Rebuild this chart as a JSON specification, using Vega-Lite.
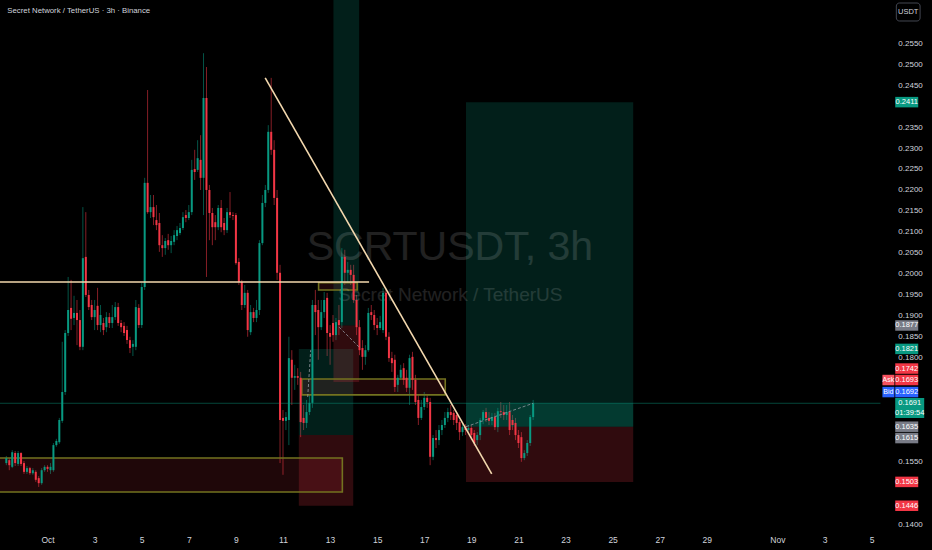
{
"$schema":"https://vega.github.io/schema/vega-lite/v6.json",
"width":932,"height":550,"autosize":{"type":"none"},"padding":0,
"background":"#000000",
"config":{"view":{"stroke":null},"font":"Liberation Sans Narrow, Liberation Sans, sans-serif"},
"datasets":{
"candles":[
{"t":"2024-09-29T06:00:00Z","o":0.1548,"h":0.1565,"l":0.1543,"c":0.1560},
{"t":"2024-09-29T09:00:00Z","o":0.1555,"h":0.1560,"l":0.1531,"c":0.1543},
{"t":"2024-09-29T12:00:00Z","o":0.1539,"h":0.1579,"l":0.1536,"c":0.1574},
{"t":"2024-09-29T15:00:00Z","o":0.1572,"h":0.1577,"l":0.1541,"c":0.1548},
{"t":"2024-09-29T18:00:00Z","o":0.1546,"h":0.1577,"l":0.1541,"c":0.1572},
{"t":"2024-09-29T21:00:00Z","o":0.1572,"h":0.1574,"l":0.1541,"c":0.1546},
{"t":"2024-09-30T00:00:00Z","o":0.1548,"h":0.1553,"l":0.1522,"c":0.1527},
{"t":"2024-09-30T03:00:00Z","o":0.1527,"h":0.1541,"l":0.1522,"c":0.1536},
{"t":"2024-09-30T06:00:00Z","o":0.1536,"h":0.1539,"l":0.1520,"c":0.1524},
{"t":"2024-09-30T09:00:00Z","o":0.1524,"h":0.1536,"l":0.1520,"c":0.1531},
{"t":"2024-09-30T12:00:00Z","o":0.1527,"h":0.1531,"l":0.1503,"c":0.1508},
{"t":"2024-09-30T15:00:00Z","o":0.1512,"h":0.1517,"l":0.1491,"c":0.1500},
{"t":"2024-09-30T18:00:00Z","o":0.1500,"h":0.1536,"l":0.1496,"c":0.1531},
{"t":"2024-09-30T21:00:00Z","o":0.1531,"h":0.1543,"l":0.1527,"c":0.1539},
{"t":"2024-10-01T00:00:00Z","o":0.1539,"h":0.1543,"l":0.1527,"c":0.1534},
{"t":"2024-10-01T03:00:00Z","o":0.1531,"h":0.1548,"l":0.1522,"c":0.1539},
{"t":"2024-10-01T06:00:00Z","o":0.1531,"h":0.1596,"l":0.1527,"c":0.1591},
{"t":"2024-10-01T09:00:00Z","o":0.1591,"h":0.1606,"l":0.1587,"c":0.1601},
{"t":"2024-10-01T12:00:00Z","o":0.1598,"h":0.1656,"l":0.1594,"c":0.1651},
{"t":"2024-10-01T15:00:00Z","o":0.1649,"h":0.1838,"l":0.1644,"c":0.1718},
{"t":"2024-10-01T18:00:00Z","o":0.1718,"h":0.1866,"l":0.1711,"c":0.1859},
{"t":"2024-10-01T21:00:00Z","o":0.1859,"h":0.1993,"l":0.1852,"c":0.1914},
{"t":"2024-10-02T00:00:00Z","o":0.1919,"h":0.1986,"l":0.1866,"c":0.1893},
{"t":"2024-10-02T03:00:00Z","o":0.1895,"h":0.1948,"l":0.1878,"c":0.1907},
{"t":"2024-10-02T06:00:00Z","o":0.1907,"h":0.1938,"l":0.1830,"c":0.1890},
{"t":"2024-10-02T09:00:00Z","o":0.1890,"h":0.1914,"l":0.1818,"c":0.1826},
{"t":"2024-10-02T12:00:00Z","o":0.1826,"h":0.2160,"l":0.1818,"c":0.2038},
{"t":"2024-10-02T15:00:00Z","o":0.2041,"h":0.2148,"l":0.1945,"c":0.1950},
{"t":"2024-10-02T18:00:00Z","o":0.1950,"h":0.1962,"l":0.1914,"c":0.1921},
{"t":"2024-10-02T21:00:00Z","o":0.1926,"h":0.1938,"l":0.1890,"c":0.1897},
{"t":"2024-10-03T00:00:00Z","o":0.1897,"h":0.1938,"l":0.1866,"c":0.1914},
{"t":"2024-10-03T03:00:00Z","o":0.1924,"h":0.1967,"l":0.1866,"c":0.1878},
{"t":"2024-10-03T06:00:00Z","o":0.1878,"h":0.1926,"l":0.1861,"c":0.1902},
{"t":"2024-10-03T09:00:00Z","o":0.1883,"h":0.1895,"l":0.1854,"c":0.1866},
{"t":"2024-10-03T12:00:00Z","o":0.1873,"h":0.1909,"l":0.1861,"c":0.1897},
{"t":"2024-10-03T15:00:00Z","o":0.1897,"h":0.1907,"l":0.1871,"c":0.1883},
{"t":"2024-10-03T18:00:00Z","o":0.1883,"h":0.1926,"l":0.1871,"c":0.1897},
{"t":"2024-10-03T21:00:00Z","o":0.1897,"h":0.1933,"l":0.1890,"c":0.1921},
{"t":"2024-10-04T00:00:00Z","o":0.1921,"h":0.1931,"l":0.1876,"c":0.1883},
{"t":"2024-10-04T03:00:00Z","o":0.1883,"h":0.1890,"l":0.1861,"c":0.1873},
{"t":"2024-10-04T06:00:00Z","o":0.1876,"h":0.1885,"l":0.1852,"c":0.1859},
{"t":"2024-10-04T09:00:00Z","o":0.1866,"h":0.1876,"l":0.1833,"c":0.1842},
{"t":"2024-10-04T12:00:00Z","o":0.1842,"h":0.1850,"l":0.1811,"c":0.1823},
{"t":"2024-10-04T15:00:00Z","o":0.1826,"h":0.1842,"l":0.1804,"c":0.1833},
{"t":"2024-10-04T18:00:00Z","o":0.1826,"h":0.1938,"l":0.1818,"c":0.1921},
{"t":"2024-10-04T21:00:00Z","o":0.1919,"h":0.1928,"l":0.1871,"c":0.1878},
{"t":"2024-10-05T00:00:00Z","o":0.1878,"h":0.1979,"l":0.1871,"c":0.1969},
{"t":"2024-10-05T03:00:00Z","o":0.1969,"h":0.2230,"l":0.1962,"c":0.2218},
{"t":"2024-10-05T06:00:00Z","o":0.2218,"h":0.2440,"l":0.2144,"c":0.2148},
{"t":"2024-10-05T09:00:00Z","o":0.2148,"h":0.2189,"l":0.2134,"c":0.2160},
{"t":"2024-10-05T12:00:00Z","o":0.2160,"h":0.2189,"l":0.2117,"c":0.2136},
{"t":"2024-10-05T15:00:00Z","o":0.2129,"h":0.2165,"l":0.2105,"c":0.2117},
{"t":"2024-10-05T18:00:00Z","o":0.2122,"h":0.2146,"l":0.2053,"c":0.2069},
{"t":"2024-10-05T21:00:00Z","o":0.2069,"h":0.2093,"l":0.2041,"c":0.2062},
{"t":"2024-10-06T00:00:00Z","o":0.2062,"h":0.2086,"l":0.2046,"c":0.2079},
{"t":"2024-10-06T03:00:00Z","o":0.2081,"h":0.2096,"l":0.2058,"c":0.2069},
{"t":"2024-10-06T06:00:00Z","o":0.2069,"h":0.2091,"l":0.2050,"c":0.2079},
{"t":"2024-10-06T09:00:00Z","o":0.2077,"h":0.2105,"l":0.2069,"c":0.2093},
{"t":"2024-10-06T12:00:00Z","o":0.2091,"h":0.2115,"l":0.2081,"c":0.2105},
{"t":"2024-10-06T15:00:00Z","o":0.2098,"h":0.2122,"l":0.2093,"c":0.2110},
{"t":"2024-10-06T18:00:00Z","o":0.2110,"h":0.2148,"l":0.2105,"c":0.2136},
{"t":"2024-10-06T21:00:00Z","o":0.2141,"h":0.2153,"l":0.2124,"c":0.2134},
{"t":"2024-10-07T00:00:00Z","o":0.2134,"h":0.2165,"l":0.2129,"c":0.2148},
{"t":"2024-10-07T03:00:00Z","o":0.2148,"h":0.2273,"l":0.2141,"c":0.2249},
{"t":"2024-10-07T06:00:00Z","o":0.2251,"h":0.2297,"l":0.2225,"c":0.2244},
{"t":"2024-10-07T09:00:00Z","o":0.2249,"h":0.2320,"l":0.2244,"c":0.2277},
{"t":"2024-10-07T12:00:00Z","o":0.2273,"h":0.2332,"l":0.2201,"c":0.2230},
{"t":"2024-10-07T15:00:00Z","o":0.2230,"h":0.2528,"l":0.2141,"c":0.2421},
{"t":"2024-10-07T18:00:00Z","o":0.2421,"h":0.2495,"l":0.1993,"c":0.2201},
{"t":"2024-10-07T21:00:00Z","o":0.2201,"h":0.2213,"l":0.2081,"c":0.2146},
{"t":"2024-10-08T00:00:00Z","o":0.2146,"h":0.2158,"l":0.2069,"c":0.2112},
{"t":"2024-10-08T03:00:00Z","o":0.2124,"h":0.2141,"l":0.2081,"c":0.2112},
{"t":"2024-10-08T06:00:00Z","o":0.2112,"h":0.2165,"l":0.2105,"c":0.2158},
{"t":"2024-10-08T09:00:00Z","o":0.2158,"h":0.2177,"l":0.2100,"c":0.2112},
{"t":"2024-10-08T12:00:00Z","o":0.2122,"h":0.2134,"l":0.2093,"c":0.2105},
{"t":"2024-10-08T15:00:00Z","o":0.2105,"h":0.2158,"l":0.2098,"c":0.2148},
{"t":"2024-10-08T18:00:00Z","o":0.2148,"h":0.2196,"l":0.2134,"c":0.2141},
{"t":"2024-10-08T21:00:00Z","o":0.2141,"h":0.2148,"l":0.2129,"c":0.2139},
{"t":"2024-10-09T00:00:00Z","o":0.2141,"h":0.2146,"l":0.2022,"c":0.2026},
{"t":"2024-10-09T03:00:00Z","o":0.2029,"h":0.2038,"l":0.1974,"c":0.1981},
{"t":"2024-10-09T06:00:00Z","o":0.1981,"h":0.1986,"l":0.1914,"c":0.1926},
{"t":"2024-10-09T09:00:00Z","o":0.1926,"h":0.1974,"l":0.1919,"c":0.1955},
{"t":"2024-10-09T12:00:00Z","o":0.1955,"h":0.1962,"l":0.1850,"c":0.1866},
{"t":"2024-10-09T15:00:00Z","o":0.1861,"h":0.1926,"l":0.1854,"c":0.1909},
{"t":"2024-10-09T18:00:00Z","o":0.1909,"h":0.1919,"l":0.1885,"c":0.1895},
{"t":"2024-10-09T21:00:00Z","o":0.1895,"h":0.1938,"l":0.1885,"c":0.1914},
{"t":"2024-10-10T00:00:00Z","o":0.1914,"h":0.2081,"l":0.1902,"c":0.2074},
{"t":"2024-10-10T03:00:00Z","o":0.2074,"h":0.2189,"l":0.2069,"c":0.2170},
{"t":"2024-10-10T06:00:00Z","o":0.2170,"h":0.2213,"l":0.2160,"c":0.2201},
{"t":"2024-10-10T09:00:00Z","o":0.2201,"h":0.2356,"l":0.2194,"c":0.2340},
{"t":"2024-10-10T12:00:00Z","o":0.2340,"h":0.2469,"l":0.2285,"c":0.2297},
{"t":"2024-10-10T15:00:00Z","o":0.2297,"h":0.2320,"l":0.2165,"c":0.2182},
{"t":"2024-10-10T18:00:00Z","o":0.2182,"h":0.2201,"l":0.1986,"c":0.2003},
{"t":"2024-10-10T21:00:00Z","o":0.2003,"h":0.2022,"l":0.1548,"c":0.1651},
{"t":"2024-10-11T00:00:00Z","o":0.1656,"h":0.1675,"l":0.1520,"c":0.1649},
{"t":"2024-10-11T03:00:00Z","o":0.1649,"h":0.1670,"l":0.1627,"c":0.1658},
{"t":"2024-10-11T06:00:00Z","o":0.1651,"h":0.1850,"l":0.1591,"c":0.1799},
{"t":"2024-10-11T09:00:00Z","o":0.1795,"h":0.1818,"l":0.1687,"c":0.1752},
{"t":"2024-10-11T12:00:00Z","o":0.1752,"h":0.1783,"l":0.1723,"c":0.1756},
{"t":"2024-10-11T15:00:00Z","o":0.1756,"h":0.1775,"l":0.1735,"c":0.1752},
{"t":"2024-10-11T18:00:00Z","o":0.1752,"h":0.1766,"l":0.1610,"c":0.1646},
{"t":"2024-10-11T21:00:00Z","o":0.1656,"h":0.1687,"l":0.1627,"c":0.1644},
{"t":"2024-10-12T00:00:00Z","o":0.1644,"h":0.1699,"l":0.1632,"c":0.1670},
{"t":"2024-10-12T03:00:00Z","o":0.1670,"h":0.1711,"l":0.1663,"c":0.1692},
{"t":"2024-10-12T06:00:00Z","o":0.1692,"h":0.1938,"l":0.1680,"c":0.1926},
{"t":"2024-10-12T09:00:00Z","o":0.1926,"h":0.1962,"l":0.1854,"c":0.1909},
{"t":"2024-10-12T12:00:00Z","o":0.1914,"h":0.1938,"l":0.1795,"c":0.1873},
{"t":"2024-10-12T15:00:00Z","o":0.1873,"h":0.1938,"l":0.1866,"c":0.1909},
{"t":"2024-10-12T18:00:00Z","o":0.1909,"h":0.1957,"l":0.1895,"c":0.1938},
{"t":"2024-10-12T21:00:00Z","o":0.1943,"h":0.1955,"l":0.1804,"c":0.1859},
{"t":"2024-10-13T00:00:00Z","o":0.1859,"h":0.1878,"l":0.1783,"c":0.1850},
{"t":"2024-10-13T03:00:00Z","o":0.1883,"h":0.1902,"l":0.1838,"c":0.1854},
{"t":"2024-10-13T06:00:00Z","o":0.1854,"h":0.1895,"l":0.1842,"c":0.1885},
{"t":"2024-10-13T09:00:00Z","o":0.1890,"h":0.1926,"l":0.1854,"c":0.1878},
{"t":"2024-10-13T12:00:00Z","o":0.1885,"h":0.2062,"l":0.1871,"c":0.2041},
{"t":"2024-10-13T15:00:00Z","o":0.2041,"h":0.2058,"l":0.1974,"c":0.2003},
{"t":"2024-10-13T18:00:00Z","o":0.2003,"h":0.2029,"l":0.1981,"c":0.2010},
{"t":"2024-10-13T21:00:00Z","o":0.2010,"h":0.2022,"l":0.1974,"c":0.1998},
{"t":"2024-10-14T00:00:00Z","o":0.1998,"h":0.2022,"l":0.1931,"c":0.1938},
{"t":"2024-10-14T03:00:00Z","o":0.1938,"h":0.1950,"l":0.1854,"c":0.1873},
{"t":"2024-10-14T06:00:00Z","o":0.1873,"h":0.1890,"l":0.1806,"c":0.1818},
{"t":"2024-10-14T09:00:00Z","o":0.1823,"h":0.1842,"l":0.1771,"c":0.1802},
{"t":"2024-10-14T12:00:00Z","o":0.1802,"h":0.1830,"l":0.1783,"c":0.1818},
{"t":"2024-10-14T15:00:00Z","o":0.1818,"h":0.1919,"l":0.1814,"c":0.1907},
{"t":"2024-10-14T18:00:00Z","o":0.1909,"h":0.1926,"l":0.1890,"c":0.1902},
{"t":"2024-10-14T21:00:00Z","o":0.1902,"h":0.1914,"l":0.1866,"c":0.1878},
{"t":"2024-10-15T00:00:00Z","o":0.1878,"h":0.1895,"l":0.1854,"c":0.1871},
{"t":"2024-10-15T03:00:00Z","o":0.1871,"h":0.1900,"l":0.1866,"c":0.1885},
{"t":"2024-10-15T06:00:00Z","o":0.1866,"h":0.1967,"l":0.1859,"c":0.1955},
{"t":"2024-10-15T09:00:00Z","o":0.1955,"h":0.1962,"l":0.1842,"c":0.1850},
{"t":"2024-10-15T12:00:00Z","o":0.1850,"h":0.1861,"l":0.1790,"c":0.1799},
{"t":"2024-10-15T15:00:00Z","o":0.1799,"h":0.1814,"l":0.1766,"c":0.1787},
{"t":"2024-10-15T18:00:00Z","o":0.1795,"h":0.1807,"l":0.1718,"c":0.1730},
{"t":"2024-10-15T21:00:00Z","o":0.1735,"h":0.1759,"l":0.1718,"c":0.1752},
{"t":"2024-10-16T00:00:00Z","o":0.1752,"h":0.1783,"l":0.1747,"c":0.1771},
{"t":"2024-10-16T03:00:00Z","o":0.1775,"h":0.1787,"l":0.1735,"c":0.1747},
{"t":"2024-10-16T06:00:00Z","o":0.1752,"h":0.1771,"l":0.1718,"c":0.1728},
{"t":"2024-10-16T09:00:00Z","o":0.1728,"h":0.1807,"l":0.1687,"c":0.1799},
{"t":"2024-10-16T12:00:00Z","o":0.1802,"h":0.1814,"l":0.1723,"c":0.1747},
{"t":"2024-10-16T15:00:00Z","o":0.1747,"h":0.1759,"l":0.1687,"c":0.1694},
{"t":"2024-10-16T18:00:00Z","o":0.1699,"h":0.1711,"l":0.1639,"c":0.1656},
{"t":"2024-10-16T21:00:00Z","o":0.1656,"h":0.1699,"l":0.1651,"c":0.1682},
{"t":"2024-10-17T00:00:00Z","o":0.1682,"h":0.1718,"l":0.1675,"c":0.1704},
{"t":"2024-10-17T03:00:00Z","o":0.1704,"h":0.1711,"l":0.1680,"c":0.1694},
{"t":"2024-10-17T06:00:00Z","o":0.1694,"h":0.1704,"l":0.1543,"c":0.1563},
{"t":"2024-10-17T09:00:00Z","o":0.1563,"h":0.1615,"l":0.1555,"c":0.1608},
{"t":"2024-10-17T12:00:00Z","o":0.1608,"h":0.1627,"l":0.1584,"c":0.1603},
{"t":"2024-10-17T15:00:00Z","o":0.1603,"h":0.1639,"l":0.1591,"c":0.1627},
{"t":"2024-10-17T18:00:00Z","o":0.1627,"h":0.1651,"l":0.1615,"c":0.1639},
{"t":"2024-10-17T21:00:00Z","o":0.1639,"h":0.1670,"l":0.1632,"c":0.1656},
{"t":"2024-10-18T00:00:00Z","o":0.1656,"h":0.1680,"l":0.1646,"c":0.1670},
{"t":"2024-10-18T03:00:00Z","o":0.1670,"h":0.1687,"l":0.1651,"c":0.1663},
{"t":"2024-10-18T06:00:00Z","o":0.1668,"h":0.1675,"l":0.1639,"c":0.1651},
{"t":"2024-10-18T09:00:00Z","o":0.1663,"h":0.1670,"l":0.1627,"c":0.1644},
{"t":"2024-10-18T12:00:00Z","o":0.1646,"h":0.1651,"l":0.1603,"c":0.1622},
{"t":"2024-10-18T15:00:00Z","o":0.1622,"h":0.1641,"l":0.1613,"c":0.1634},
{"t":"2024-10-18T18:00:00Z","o":0.1634,"h":0.1641,"l":0.1615,"c":0.1627},
{"t":"2024-10-18T21:00:00Z","o":0.1627,"h":0.1639,"l":0.1620,"c":0.1632},
{"t":"2024-10-19T00:00:00Z","o":0.1632,"h":0.1639,"l":0.1603,"c":0.1615},
{"t":"2024-10-19T03:00:00Z","o":0.1620,"h":0.1627,"l":0.1589,"c":0.1596},
{"t":"2024-10-19T06:00:00Z","o":0.1603,"h":0.1622,"l":0.1591,"c":0.1615},
{"t":"2024-10-19T09:00:00Z","o":0.1615,"h":0.1656,"l":0.1603,"c":0.1651},
{"t":"2024-10-19T12:00:00Z","o":0.1651,"h":0.1675,"l":0.1641,"c":0.1670},
{"t":"2024-10-19T15:00:00Z","o":0.1670,"h":0.1680,"l":0.1646,"c":0.1656},
{"t":"2024-10-19T18:00:00Z","o":0.1656,"h":0.1670,"l":0.1639,"c":0.1649},
{"t":"2024-10-19T21:00:00Z","o":0.1649,"h":0.1668,"l":0.1639,"c":0.1658},
{"t":"2024-10-20T00:00:00Z","o":0.1658,"h":0.1668,"l":0.1627,"c":0.1634},
{"t":"2024-10-20T03:00:00Z","o":0.1634,"h":0.1680,"l":0.1622,"c":0.1672},
{"t":"2024-10-20T06:00:00Z","o":0.1672,"h":0.1694,"l":0.1656,"c":0.1670},
{"t":"2024-10-20T09:00:00Z","o":0.1670,"h":0.1687,"l":0.1651,"c":0.1663},
{"t":"2024-10-20T12:00:00Z","o":0.1663,"h":0.1687,"l":0.1651,"c":0.1670},
{"t":"2024-10-20T15:00:00Z","o":0.1670,"h":0.1694,"l":0.1615,"c":0.1627},
{"t":"2024-10-20T18:00:00Z","o":0.1651,"h":0.1663,"l":0.1627,"c":0.1639},
{"t":"2024-10-20T21:00:00Z","o":0.1644,"h":0.1656,"l":0.1603,"c":0.1615},
{"t":"2024-10-21T00:00:00Z","o":0.1615,"h":0.1627,"l":0.1584,"c":0.1596},
{"t":"2024-10-21T03:00:00Z","o":0.1610,"h":0.1622,"l":0.1551,"c":0.1560},
{"t":"2024-10-21T06:00:00Z","o":0.1560,"h":0.1579,"l":0.1555,"c":0.1572},
{"t":"2024-10-21T09:00:00Z","o":0.1572,"h":0.1603,"l":0.1565,"c":0.1596},
{"t":"2024-10-21T12:00:00Z","o":0.1596,"h":0.1663,"l":0.1589,"c":0.1658},
{"t":"2024-10-21T15:00:00Z","o":0.1658,"h":0.1699,"l":0.1651,"c":0.1691}
],
"zones":[
{"t1":"2024-10-11T16:08:00Z","t2":"2024-10-13T23:36:00Z","p1":0.1615,"p2":0.1821,"kind":"profit"},
{"t1":"2024-10-13T03:26:00Z","t2":"2024-10-14T05:38:00Z","p1":0.1877,"p2":0.2700,"kind":"profit"},
{"t1":"2024-10-18T18:33:00Z","t2":"2024-10-25T21:00:00Z","p1":0.1635,"p2":0.2411,"kind":"profit"},
{"t1":"2024-10-18T18:33:00Z","t2":"2024-10-25T21:00:00Z","p1":0.1635,"p2":0.1691,"kind":"band"},
{"t1":"2024-10-11T16:08:00Z","t2":"2024-10-13T23:36:00Z","p1":0.1446,"p2":0.1615,"kind":"loss"},
{"t1":"2024-10-13T03:26:00Z","t2":"2024-10-14T05:38:00Z","p1":0.1742,"p2":0.1877,"kind":"loss"},
{"t1":"2024-10-18T18:33:00Z","t2":"2024-10-25T21:00:00Z","p1":0.1503,"p2":0.1635,"kind":"loss"},
{"t1":"2024-09-28T00:00:00Z","t2":"2024-10-13T12:30:00Z","p1":0.1479,"p2":0.1560,"kind":"box"},
{"t1":"2024-10-11T19:10:00Z","t2":"2024-10-17T21:24:00Z","p1":0.1711,"p2":0.1749,"kind":"box"},
{"t1":"2024-10-12T12:18:00Z","t2":"2024-10-14T03:38:00Z","p1":0.1962,"p2":0.1979,"kind":"box"}
],
"trend":[
{"id":"h","t":"2024-09-28T00:00:00Z","p":0.1981},
{"id":"h","t":"2024-10-14T15:44:00Z","p":0.1981},
{"id":"d","t":"2024-10-10T05:51:00Z","p":0.2469},
{"id":"d","t":"2024-10-19T20:46:00Z","p":0.1522}
],
"dash":[
{"id":"a","t":"2024-10-18T18:33:00Z","p":0.1635},
{"id":"a","t":"2024-10-21T15:00:00Z","p":0.1691},
{"id":"b","t":"2024-10-12T01:12:00Z","p":0.1706},
{"id":"b","t":"2024-10-12T04:14:00Z","p":0.1818},
{"id":"c","t":"2024-10-13T09:12:00Z","p":0.1873},
{"id":"c","t":"2024-10-14T05:20:00Z","p":0.1826}
],
"price":[
{"t":"2024-09-28T00:00:00Z","p":0.1691},
{"t":"2024-11-05T09:02:00Z","p":0.1691}
],
"levels":[{"p":0.14},{"p":0.155},{"p":0.18},{"p":0.185},{"p":0.19},{"p":0.195},{"p":0.2},{"p":0.205},{"p":0.21},{"p":0.215},{"p":0.22},{"p":0.225},{"p":0.23},{"p":0.235},{"p":0.245},{"p":0.25},{"p":0.255}],
"tags":[
{"p":0.2411,"text":"0.2411","kind":"green"},
{"p":0.1877,"text":"0.1877","kind":"grey"},
{"p":0.1821,"text":"0.1821","kind":"green"},
{"p":0.1742,"text":"0.1742","kind":"red"},
{"p":0.1693,"text":"0.1693","kind":"red","side":"Ask"},
{"p":0.1692,"text":"0.1692","kind":"blue","side":"Bid"},
{"p":0.1635,"text":"0.1635","kind":"grey"},
{"p":0.1615,"text":"0.1615","kind":"grey"},
{"p":0.1503,"text":"0.1503","kind":"red"},
{"p":0.1446,"text":"0.1446","kind":"red"}
],
"last":[{"p":0.1691,"text":"0.1691\n01:39:54"}],
"one":[{}]
},
"layer":[
{"data":{"name":"candles"},"mark":{"type":"rule","strokeWidth":1,"opacity":0.55},
 "encoding":{"x":{"field":"t","type":"temporal","scale":{"type":"utc","domain":[1727584680000,1730968080000],"nice":false},
   "axis":{"orient":"bottom","offset":-20,"title":null,"ticks":false,"domain":false,"grid":false,"labelColor":"#d1d4dc","labelFontSize":8.5,"labelFont":"Liberation Sans Narrow, Liberation Sans, sans-serif","labelPadding":5,"labelFlush":false,"labelOverlap":false,
   "values":[{"year":2024,"month":"oct","date":1,"utc":true},{"year":2024,"month":"oct","date":3,"utc":true},{"year":2024,"month":"oct","date":5,"utc":true},{"year":2024,"month":"oct","date":7,"utc":true},{"year":2024,"month":"oct","date":9,"utc":true},{"year":2024,"month":"oct","date":11,"utc":true},{"year":2024,"month":"oct","date":13,"utc":true},{"year":2024,"month":"oct","date":15,"utc":true},{"year":2024,"month":"oct","date":17,"utc":true},{"year":2024,"month":"oct","date":19,"utc":true},{"year":2024,"month":"oct","date":21,"utc":true},{"year":2024,"month":"oct","date":23,"utc":true},{"year":2024,"month":"oct","date":25,"utc":true},{"year":2024,"month":"oct","date":27,"utc":true},{"year":2024,"month":"oct","date":29,"utc":true},{"year":2024,"month":"nov","date":1,"utc":true},{"year":2024,"month":"nov","date":3,"utc":true},{"year":2024,"month":"nov","date":5,"utc":true}],
   "labelExpr":"utcdate(datum.value) == 1 ? utcFormat(datum.value, '%b') : '' + utcdate(datum.value)"}},
  "y":{"field":"l","type":"quantitative","scale":{"domain":[0.13402,0.26552],"nice":false,"zero":false},
   "axis":{"orient":"right","title":null,"ticks":false,"domain":false,"grid":false,"labels":false}},
  "y2":{"field":"h"},
  "color":{"condition":{"test":"datum.c >= datum.o","value":"#089981"},"value":"#f23645"}}},
{"data":{"name":"zones"},"transform":[{"filter":"datum.kind=='profit'"}],
 "mark":{"type":"rect","color":"#089981","opacity":0.2,"clip":true},
 "encoding":{"x":{"field":"t1","type":"temporal"},"x2":{"field":"t2"},
 "y":{"field":"p1","type":"quantitative"},"y2":{"field":"p2"}}},
{"data":{"name":"zones"},"transform":[{"filter":"datum.kind=='band'"}],
 "mark":{"type":"rect","color":"#089981","opacity":0.22,"clip":true},
 "encoding":{"x":{"field":"t1","type":"temporal"},"x2":{"field":"t2"},
 "y":{"field":"p1","type":"quantitative"},"y2":{"field":"p2"}}},
{"data":{"name":"zones"},"transform":[{"filter":"datum.kind=='loss'"}],
 "mark":{"type":"rect","color":"#f23645","opacity":0.2,"clip":true},
 "encoding":{"x":{"field":"t1","type":"temporal"},"x2":{"field":"t2"},
 "y":{"field":"p1","type":"quantitative"},"y2":{"field":"p2"}}},
{"data":{"name":"zones"},"transform":[{"filter":"datum.kind=='box'"}],
 "mark":{"type":"rect","fill":"#f23645","fillOpacity":0.13,"stroke":"#73731f","strokeWidth":1.6,"strokeOpacity":1,"clip":true},
 "encoding":{"x":{"field":"t1","type":"temporal"},"x2":{"field":"t2"},
 "y":{"field":"p1","type":"quantitative"},"y2":{"field":"p2"}}},
{"data":{"name":"one"},"mark":{"type":"text","text":"SCRTUSDT, 3h","fontSize":41,"fill":"#ffffff","opacity":0.13,"align":"center","baseline":"middle"},
 "encoding":{"x":{"datum":{"year":2024,"month":"oct","date":18,"hours":2,"minutes":6,"utc":true},"type":"temporal"},
 "y":{"datum":0.2062,"type":"quantitative"}}},
{"data":{"name":"one"},"mark":{"type":"text","text":"Secret Network / TetherUS","fontSize":19,"fill":"#ffffff","opacity":0.13,"align":"center","baseline":"middle"},
 "encoding":{"x":{"datum":{"year":2024,"month":"oct","date":18,"hours":2,"minutes":24,"utc":true},"type":"temporal"},
 "y":{"datum":0.1950,"type":"quantitative"}}},
{"data":{"name":"price"},"mark":{"type":"line","color":"#089981","strokeWidth":1,"opacity":0.45,"clip":true},
 "encoding":{"x":{"field":"t","type":"temporal"},
 "y":{"field":"p","type":"quantitative"}}},
{"data":{"name":"candles"},"mark":{"type":"bar","width":2},
 "encoding":{"x":{"field":"t","type":"temporal"},
  "y":{"field":"o","type":"quantitative"},
  "y2":{"field":"c"},
  "color":{"condition":{"test":"datum.c >= datum.o","value":"#089981"},"value":"#f23645"}}},
{"data":{"name":"trend"},"mark":{"type":"line","color":"#f3d8ae","strokeWidth":1.6,"clip":true},
 "encoding":{"x":{"field":"t","type":"temporal"},
  "y":{"field":"p","type":"quantitative"},
  "detail":{"field":"id"}}},
{"data":{"name":"dash"},"mark":{"type":"line","color":"#9598a1","strokeWidth":1,"strokeDash":[3,2],"opacity":0.8,"clip":true},
 "encoding":{"x":{"field":"t","type":"temporal"},
  "y":{"field":"p","type":"quantitative"},
  "detail":{"field":"id"}}},
{"data":{"name":"one"},"mark":{"type":"text","text":"Secret Network / TetherUS · 3h · Binance","fontSize":7.8,"fill":"#d1d4dc","align":"left","baseline":"middle"},
 "encoding":{"x":{"datum":{"year":2024,"month":"sep","date":29,"hours":7,"minutes":0,"utc":true},"type":"temporal"},
 "y":{"datum":0.2628,"type":"quantitative"}}},
{"data":{"name":"levels"},"mark":{"type":"text","fill":"#d1d4dc","fontSize":8,"align":"left","baseline":"middle"},
 "encoding":{"x":{"datum":{"year":2024,"month":"nov","date":6,"hours":3,"minutes":14,"utc":true},"type":"temporal"},
 "y":{"field":"p","type":"quantitative"},
 "text":{"field":"p","type":"quantitative","format":".4f"}}},
{"data":{"name":"one"},"mark":{"type":"rect","fill":"#000000","stroke":"#434651","strokeWidth":1,"cornerRadius":3},
 "encoding":{"x":{"datum":{"year":2024,"month":"nov","date":6,"hours":1,"minutes":13,"utc":true},"type":"temporal"},
 "x2":{"datum":{"year":2024,"month":"nov","date":7,"hours":1,"minutes":25,"utc":true}},
 "y":{"datum":0.2648,"type":"quantitative"},
 "y2":{"datum":0.2605}}},
{"data":{"name":"one"},"mark":{"type":"text","text":"USDT","fontSize":7.5,"fill":"#d1d4dc","align":"center","baseline":"middle"},
 "encoding":{"x":{"datum":{"year":2024,"month":"nov","date":6,"hours":13,"minutes":19,"utc":true},"type":"temporal"},
 "y":{"datum":0.2627,"type":"quantitative"}}},
{"data":{"name":"tags"},"transform":[{"filter":"indexof(['0.2411','0.1877','0.1821','0.1635','0.1503','0.1446'], datum.text) >= 0"}],
 "encoding":{"x":{"datum":{"year":2024,"month":"nov","date":6,"hours":11,"minutes":48,"utc":true},"type":"temporal"},
 "y":{"field":"p","type":"quantitative"}},
 "layer":[
  {"mark":{"type":"tick","orient":"horizontal","size":23,"thickness":10.5,"opacity":1},
   "encoding":{"color":{"field":"kind","type":"nominal","scale":{"domain":["grey","green","red","blue"],"range":["#787b86","#089981","#f23645","#2962ff"]},"legend":null}}},
  {"mark":{"type":"text","fill":"#ffffff","fontSize":7.5,"align":"center","baseline":"middle"},"encoding":{"text":{"field":"text"}}}
 ]},
{"data":{"name":"tags"},"transform":[{"filter":"datum.text=='0.1742'"}],
 "encoding":{"x":{"datum":{"year":2024,"month":"nov","date":6,"hours":11,"minutes":48,"utc":true},"type":"temporal"},
 "y":{"field":"p","type":"quantitative"}},
 "layer":[
  {"mark":{"type":"tick","orient":"horizontal","size":23,"thickness":10.5,"opacity":1,"color":"#f23645","yOffset":-13.4}},
  {"mark":{"type":"text","fill":"#ffffff","fontSize":7.5,"align":"center","baseline":"middle","yOffset":-13.4},"encoding":{"text":{"field":"text"}}}
 ]},
{"data":{"name":"tags"},"transform":[{"filter":"datum.side=='Ask'"}],
 "encoding":{"y":{"field":"p","type":"quantitative"}},
 "layer":[
  {"mark":{"type":"tick","orient":"horizontal","size":23,"thickness":10.5,"opacity":1,"color":"#f23645","yOffset":-22.4},
   "encoding":{"x":{"datum":{"year":2024,"month":"nov","date":6,"hours":11,"minutes":48,"utc":true},"type":"temporal"}}},
  {"mark":{"type":"text","fill":"#ffffff","fontSize":7.5,"align":"center","baseline":"middle","yOffset":-22.4},
   "encoding":{"x":{"datum":{"year":2024,"month":"nov","date":6,"hours":11,"minutes":48,"utc":true},"type":"temporal"},"text":{"field":"text"}}},
  {"mark":{"type":"tick","orient":"horizontal","size":12,"thickness":10.5,"opacity":1,"color":"#f7525f","yOffset":-22.4},
   "encoding":{"x":{"datum":{"year":2024,"month":"nov","date":5,"hours":17,"minutes":8,"utc":true},"type":"temporal"}}},
  {"mark":{"type":"text","fill":"#ffffff","fontSize":7,"align":"center","baseline":"middle","yOffset":-22.4},
   "encoding":{"x":{"datum":{"year":2024,"month":"nov","date":5,"hours":17,"minutes":8,"utc":true},"type":"temporal"},"text":{"field":"side"}}}
 ]},
{"data":{"name":"tags"},"transform":[{"filter":"datum.side=='Bid'"}],
 "encoding":{"y":{"field":"p","type":"quantitative"}},
 "layer":[
  {"mark":{"type":"tick","orient":"horizontal","size":23,"thickness":10.5,"opacity":1,"color":"#2962ff","yOffset":-10.8},
   "encoding":{"x":{"datum":{"year":2024,"month":"nov","date":6,"hours":11,"minutes":48,"utc":true},"type":"temporal"}}},
  {"mark":{"type":"text","fill":"#ffffff","fontSize":7.5,"align":"center","baseline":"middle","yOffset":-10.8},
   "encoding":{"x":{"datum":{"year":2024,"month":"nov","date":6,"hours":11,"minutes":48,"utc":true},"type":"temporal"},"text":{"field":"text"}}},
  {"mark":{"type":"tick","orient":"horizontal","size":12,"thickness":10.5,"opacity":1,"color":"#2962ff","yOffset":-10.8},
   "encoding":{"x":{"datum":{"year":2024,"month":"nov","date":5,"hours":17,"minutes":8,"utc":true},"type":"temporal"}}},
  {"mark":{"type":"text","fill":"#ffffff","fontSize":7,"align":"center","baseline":"middle","yOffset":-10.8},
   "encoding":{"x":{"datum":{"year":2024,"month":"nov","date":5,"hours":17,"minutes":8,"utc":true},"type":"temporal"},"text":{"field":"side"}}}
 ]},
{"data":{"name":"tags"},"transform":[{"filter":"datum.text=='0.1615'"}],
 "encoding":{"x":{"datum":{"year":2024,"month":"nov","date":6,"hours":11,"minutes":48,"utc":true},"type":"temporal"},
 "y":{"field":"p","type":"quantitative"}},
 "layer":[
  {"mark":{"type":"tick","orient":"horizontal","size":23,"thickness":10.5,"opacity":1,"color":"#787b86","yOffset":3}},
  {"mark":{"type":"text","fill":"#ffffff","fontSize":7.5,"align":"center","baseline":"middle","yOffset":3},"encoding":{"text":{"field":"text"}}}
 ]},
{"data":{"name":"last"},
 "encoding":{"x":{"datum":{"year":2024,"month":"nov","date":6,"hours":14,"minutes":50,"utc":true},"type":"temporal"},
 "y":{"field":"p","type":"quantitative"}},
 "layer":[
  {"mark":{"type":"tick","orient":"horizontal","size":29,"thickness":20,"opacity":1,"color":"#089981","yOffset":4.7}},
  {"mark":{"type":"text","fill":"#ffffff","fontSize":7.5,"align":"center","baseline":"middle","lineBreak":"\n","lineHeight":10,"yOffset":0},"encoding":{"text":{"field":"text"}}}
 ]}
]
}
